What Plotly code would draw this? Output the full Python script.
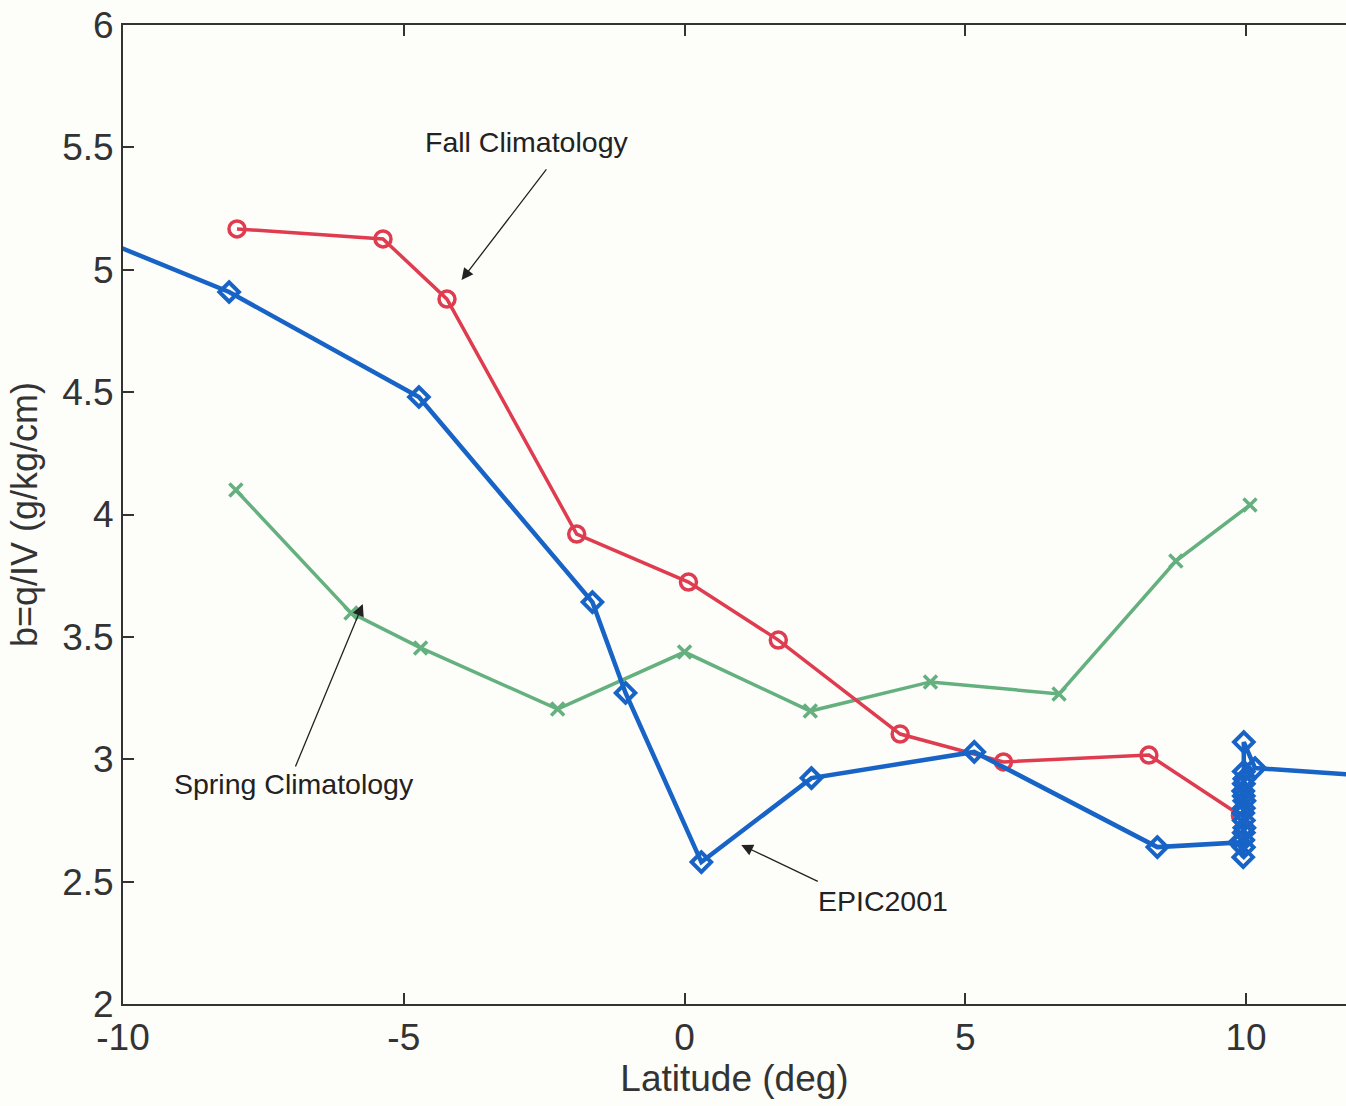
import plotly.graph_objects as go

# Fall Climatology (red, circles)
fall_lat = [-7.97, -5.37, -4.23, -1.92, 0.07, 1.67, 3.84, 5.68, 8.27, 9.9]
fall_b = [5.167, 5.126, 4.88, 3.92, 3.724, 3.487, 3.103, 2.989, 3.017, 2.77]

# Spring Climatology (green, crosses)
spring_lat = [-7.99, -5.94, -4.70, -2.26, 0.0, 2.24, 4.38, 6.67, 8.75, 10.07]
spring_b = [4.10, 3.598, 3.455, 3.205, 3.438, 3.197, 3.316, 3.267, 3.81, 4.039]

# EPIC2001 (blue, diamonds)
epic_lat = [-11.0, -8.11, -4.73, -1.64, -1.05, 0.30, 2.26, 5.16, 8.42, 9.88,
            9.95, 9.96, 9.95, 9.96, 9.97, 9.96, 9.95, 9.96, 9.97, 9.96, 9.95, 9.96,
            9.97, 9.96, 9.96, 10.16, 12.3]
epic_b = [5.18, 4.909, 4.48, 3.642, 3.271, 2.58, 2.923, 3.03, 2.641, 2.66,
          2.60, 2.64, 2.67, 2.70, 2.72, 2.75, 2.78, 2.80, 2.83, 2.85, 2.87, 2.90,
          2.92, 2.95, 3.07, 2.964, 2.93]

y_ticks = [2, 2.5, 3, 3.5, 4, 4.5, 5, 5.5, 6]
y_ticktext = ["2", "2.5", "3", "3.5", "4", "4.5", "5", "5.5", "6"]
x_ticks = [-10, -5, 0, 5, 10]
x_ticktext = ["-10", "-5", "0", "5", "10"]

RED = "#e03c50"
BLUE = "#1763c6"
GREEN = "#64b07e"
FONT = "Liberation Sans, Arial, sans-serif"

fig = go.Figure()
fig.add_trace(go.Scatter(x=spring_lat, y=spring_b, mode="lines+markers",
                         line=dict(color=GREEN, width=3.5),
                         marker=dict(symbol="x-thin-open", size=13,
                                     line=dict(color=GREEN, width=3.5)),
                         cliponaxis=True, showlegend=False))
fig.add_trace(go.Scatter(x=fall_lat, y=fall_b, mode="lines+markers",
                         line=dict(color=RED, width=3.5),
                         marker=dict(symbol="circle-open", size=16,
                                     line=dict(color=RED, width=3.5)),
                         cliponaxis=True, showlegend=False))
fig.add_trace(go.Scatter(x=epic_lat, y=epic_b, mode="lines+markers",
                         line=dict(color=BLUE, width=4.5),
                         marker=dict(symbol="diamond-open", size=15,
                                     line=dict(color=BLUE, width=4)),
                         cliponaxis=True, showlegend=False))

# Annotations: arrows (head, tail) and text labels
arrows = [
    dict(x=-3.97, y=4.958, ax=-2.44, ay=5.416),
    dict(x=-5.73, y=3.634, ax=-6.94, ay=2.964),
    dict(x=1.01, y=2.65, ax=2.40, ay=2.498),
]
for a in arrows:
    fig.add_annotation(x=a["x"], y=a["y"], ax=a["ax"], ay=a["ay"],
                       xref="x", yref="y", axref="x", ayref="y",
                       text="", showarrow=True, arrowhead=2, arrowsize=1.8,
                       arrowwidth=1.3, arrowcolor="#222222")

labels = [
    ("Fall Climatology", -2.81, 5.52),
    ("Spring Climatology", -6.95, 2.90),
    ("EPIC2001", 3.53, 2.42),
]
for txt, lx, ly in labels:
    fig.add_annotation(x=lx, y=ly, xref="x", yref="y", text=txt, showarrow=False,
                       font=dict(family=FONT, size=28.5, color="#222222"))

fig.update_layout(
    width=1346, height=1106,
    margin=dict(l=123, r=0, t=25, b=102),
    paper_bgcolor="#fdfdfa", plot_bgcolor="#fdfdfa",
    font=dict(family=FONT, color="#333333"),
)
fig.update_xaxes(range=[-10, 11.78], tickvals=x_ticks, ticktext=x_ticktext,
                 showgrid=False, zeroline=False,
                 showline=True, linecolor="#333333", linewidth=2, mirror="ticks",
                 ticks="inside", ticklen=11, tickwidth=1.5, tickcolor="#333333",
                 tickfont=dict(family=FONT, size=37, color="#333333"),
                 ticklabelstandoff=0,
                 title=dict(text="Latitude (deg)", standoff=4,
                            font=dict(family=FONT, size=37, color="#333333")))
fig.update_yaxes(range=[2, 6], tickvals=y_ticks, ticktext=y_ticktext,
                 showgrid=False, zeroline=False,
                 showline=True, linecolor="#333333", linewidth=2, mirror=False,
                 ticks="inside", ticklen=11, tickwidth=1.5, tickcolor="#333333",
                 tickfont=dict(family=FONT, size=37, color="#333333"),
                 ticklabelstandoff=0,
                 title=dict(text="b=q/IV (g/kg/cm)", standoff=14,
                            font=dict(family=FONT, size=36, color="#333333")))

fig.write_html("out.html", config={"displayModeBar": False},
               post_script="document.body.style.margin='0';document.body.style.padding='0';")
